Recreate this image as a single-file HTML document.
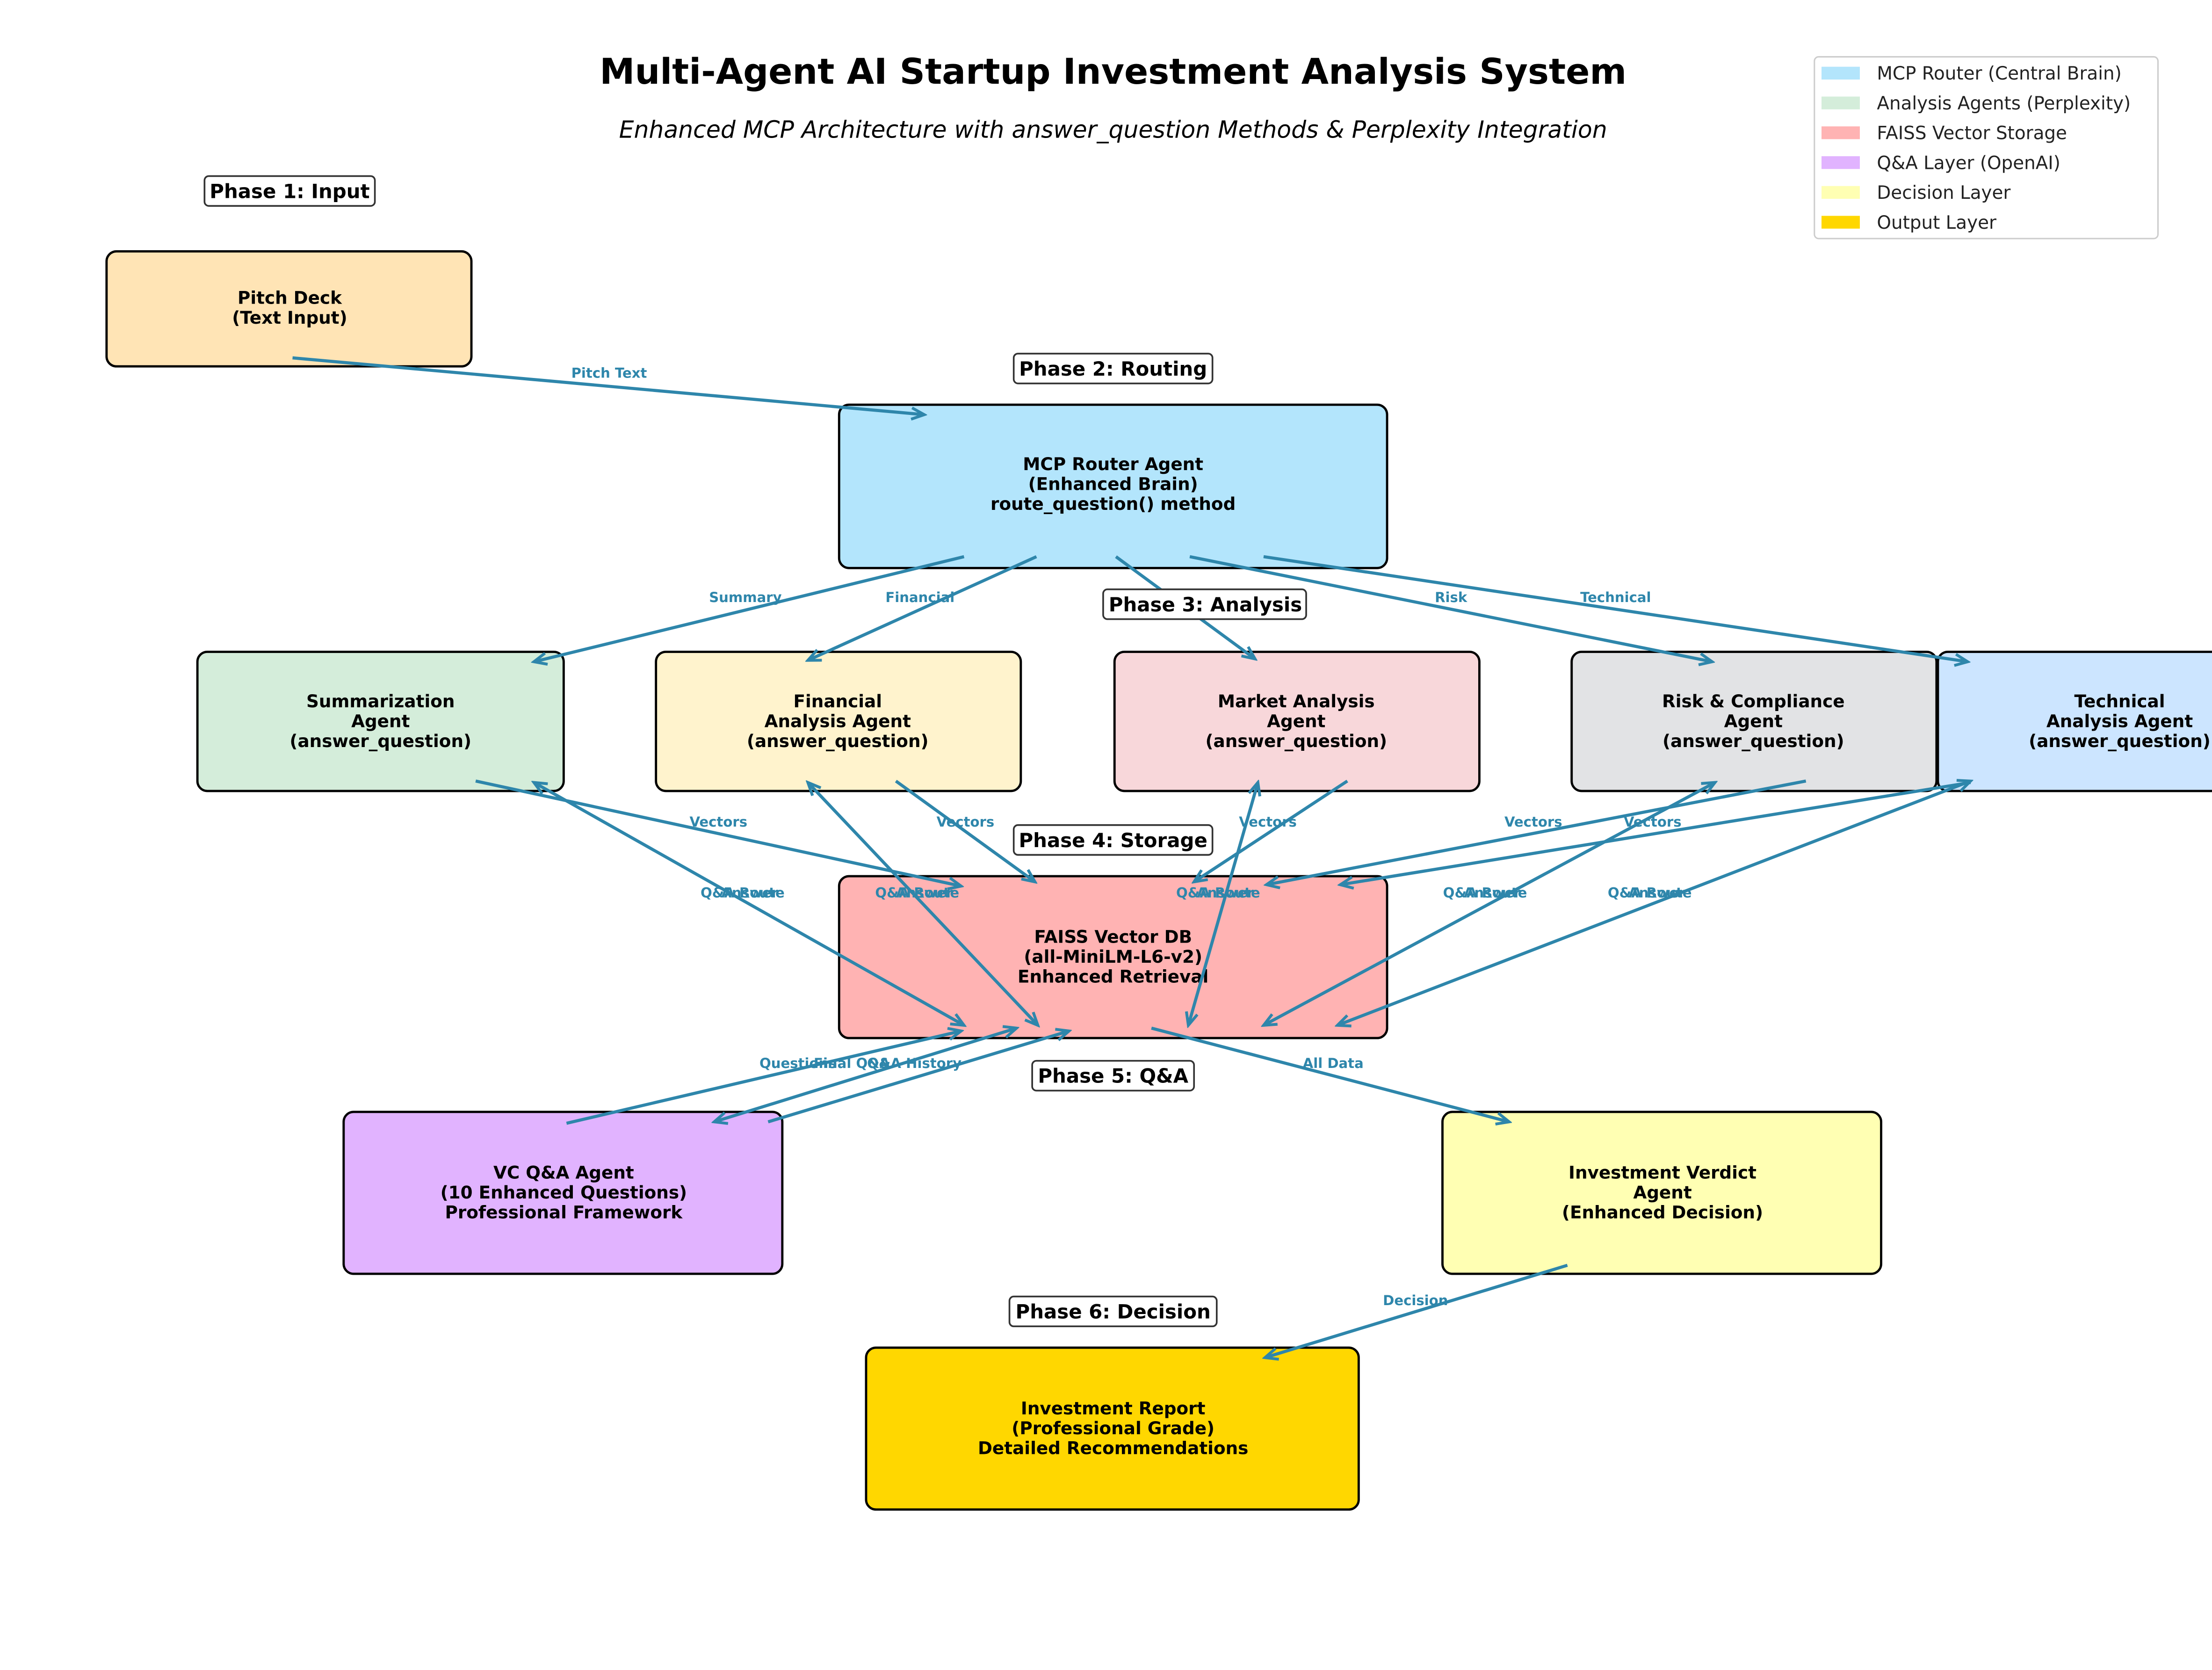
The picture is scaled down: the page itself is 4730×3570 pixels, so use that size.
<!DOCTYPE html>
<html><head><meta charset="utf-8"><style>
html,body{margin:0;padding:0;background:#fff;}
svg{display:block;}
text{font-family:"DejaVu Sans","Liberation Sans",sans-serif;}
.n{font-size:12.3px;font-weight:bold;fill:#000;text-anchor:middle;}
.p{font-size:13.8px;font-weight:bold;fill:#000;text-anchor:middle;}
.e{font-size:9.6px;font-weight:bold;fill:#2E86AB;text-anchor:middle;}
.a{stroke:#2E86AB;stroke-width:2.2;fill:none;marker-end:url(#ah);}
.b{stroke:#2E86AB;stroke-width:2.2;fill:none;marker-end:url(#ah);marker-start:url(#ah);}
.box{stroke:#000;stroke-width:1.6;}
.ph{fill:#fff;stroke:#333;stroke-width:1.2;}
.lg{font-size:12.8px;fill:#222;}
</style></head><body>
<svg width="4730" height="3570" viewBox="0 0 1558 1176" xmlns="http://www.w3.org/2000/svg">
<defs>
<marker id="ah" markerUnits="userSpaceOnUse" markerWidth="12" markerHeight="12" refX="10" refY="5" orient="auto-start-reverse" viewBox="0 0 12 10">
<path d="M1,1 L10,5 L1,9" stroke="#2E86AB" stroke-width="2" fill="none"/>
</marker>
</defs>
<rect width="1558" height="1176" fill="#fff"/>
<text x="784" y="59" style="font-size:24.9px;font-weight:bold" text-anchor="middle">Multi-Agent AI Startup Investment Analysis System</text>
<text x="784" y="97" style="font-size:16.6px;font-style:italic" text-anchor="middle">Enhanced MCP Architecture with answer_question Methods &amp; Perplexity Integration</text>

<rect x="1278" y="40" width="242" height="128" rx="3" fill="#fff" stroke="#ccc" stroke-width="1"/>
<rect x="1283" y="47" width="27" height="9" fill="#B3E5FC"/><text x="1322" y="56" class="lg">MCP Router (Central Brain)</text>
<rect x="1283" y="68" width="27" height="9" fill="#D4EDDA"/><text x="1322" y="77" class="lg">Analysis Agents (Perplexity)</text>
<rect x="1283" y="89" width="27" height="9" fill="#FFB3B3"/><text x="1322" y="98" class="lg">FAISS Vector Storage</text>
<rect x="1283" y="110" width="27" height="9" fill="#E1B3FF"/><text x="1322" y="119" class="lg">Q&amp;A Layer (OpenAI)</text>
<rect x="1283" y="131" width="27" height="9" fill="#FFFFB3"/><text x="1322" y="140" class="lg">Decision Layer</text>
<rect x="1283" y="152" width="27" height="9" fill="#FFD700"/><text x="1322" y="161" class="lg">Output Layer</text>

<rect class="box" x="75" y="177" width="257" height="81" rx="7" fill="#FFE4B5"/>
<text class="n" x="204" y="214">Pitch Deck</text><text class="n" x="204" y="228">(Text Input)</text>

<rect class="box" x="591" y="285" width="386" height="115" rx="7" fill="#B3E5FC"/>
<text class="n" x="784" y="331">MCP Router Agent</text><text class="n" x="784" y="345">(Enhanced Brain)</text><text class="n" x="784" y="359">route_question() method</text>

<rect class="box" x="139" y="459" width="258" height="98" rx="7" fill="#D4EDDA"/>
<text class="n" x="268" y="498">Summarization</text><text class="n" x="268" y="512">Agent</text><text class="n" x="268" y="526">(answer_question)</text>

<rect class="box" x="462" y="459" width="257" height="98" rx="7" fill="#FFF3CD"/>
<text class="n" x="590" y="498">Financial</text><text class="n" x="590" y="512">Analysis Agent</text><text class="n" x="590" y="526">(answer_question)</text>

<rect class="box" x="785" y="459" width="257" height="98" rx="7" fill="#F8D7DA"/>
<text class="n" x="913" y="498">Market Analysis</text><text class="n" x="913" y="512">Agent</text><text class="n" x="913" y="526">(answer_question)</text>

<rect class="box" x="1107" y="459" width="257" height="98" rx="7" fill="#E2E3E5"/>
<text class="n" x="1235" y="498">Risk &amp; Compliance</text><text class="n" x="1235" y="512">Agent</text><text class="n" x="1235" y="526">(answer_question)</text>

<rect class="box" x="1365" y="459" width="257" height="98" rx="7" fill="#CCE5FF"/>
<text class="n" x="1493" y="498">Technical</text><text class="n" x="1493" y="512">Analysis Agent</text><text class="n" x="1493" y="526">(answer_question)</text>

<rect class="box" x="591" y="617" width="386" height="114" rx="7" fill="#FFB3B3"/>
<text class="n" x="784" y="664">FAISS Vector DB</text><text class="n" x="784" y="678">(all-MiniLM-L6-v2)</text><text class="n" x="784" y="692">Enhanced Retrieval</text>

<rect class="box" x="242" y="783" width="309" height="114" rx="7" fill="#E1B3FF"/>
<text class="n" x="397" y="830">VC Q&amp;A Agent</text><text class="n" x="397" y="844">(10 Enhanced Questions)</text><text class="n" x="397" y="858">Professional Framework</text>

<rect class="box" x="1016" y="783" width="309" height="114" rx="7" fill="#FFFFB3"/>
<text class="n" x="1171" y="830">Investment Verdict</text><text class="n" x="1171" y="844">Agent</text><text class="n" x="1171" y="858">(Enhanced Decision)</text>

<rect class="box" x="610" y="949" width="347" height="114" rx="7" fill="#FFD700"/>
<text class="n" x="784" y="996">Investment Report</text><text class="n" x="784" y="1010">(Professional Grade)</text><text class="n" x="784" y="1024">Detailed Recommendations</text>

<line class="a" x1="206" y1="252" x2="651" y2="292"/>
<line class="a" x1="679" y1="392" x2="376" y2="466"/>
<line class="a" x1="730" y1="392" x2="569" y2="465"/>
<line class="a" x1="786" y1="392" x2="884" y2="464"/>
<line class="a" x1="838" y1="392" x2="1206" y2="466"/>
<line class="a" x1="890" y1="392" x2="1386" y2="466"/>

<line class="a" x1="335" y1="550" x2="677" y2="624"/>
<line class="a" x1="631" y1="550" x2="729" y2="621"/>
<line class="a" x1="949" y1="550" x2="841" y2="621"/>
<line class="a" x1="1272" y1="550" x2="892" y2="623"/>
<line class="a" x1="1388" y1="551" x2="944" y2="623"/>

<line class="b" x1="376" y1="551" x2="679" y2="722"/>
<line class="b" x1="569" y1="551" x2="731" y2="722"/>
<line class="b" x1="886" y1="551" x2="837" y2="722"/>
<line class="b" x1="1208" y1="551" x2="890" y2="722"/>
<line class="b" x1="1388" y1="550" x2="942" y2="722"/>

<line class="a" x1="399" y1="791" x2="677" y2="726"/>
<line class="b" x1="716" y1="724" x2="503" y2="790"/>
<line class="a" x1="541" y1="790" x2="753" y2="726"/>
<line class="a" x1="811" y1="724" x2="1063" y2="790"/>
<line class="a" x1="1104" y1="891" x2="891" y2="956"/>

<text class="e" x="429" y="266">Pitch Text</text>
<text class="e" x="525" y="424">Summary</text>
<text class="e" x="648" y="424">Financial</text>
<text class="e" x="835" y="424">Market</text>
<text class="e" x="1022" y="424">Risk</text>
<text class="e" x="1138" y="424">Technical</text>
<text class="e" x="506" y="582">Vectors</text>
<text class="e" x="680" y="582">Vectors</text>
<text class="e" x="893" y="582">Vectors</text>
<text class="e" x="1080" y="582">Vectors</text>
<text class="e" x="1164" y="582">Vectors</text>
<text class="e" x="523" y="632">Q&amp;A Route</text><text class="e" x="528" y="632">Answer</text>
<text class="e" x="646" y="632">Q&amp;A Route</text><text class="e" x="651" y="632">Answer</text>
<text class="e" x="858" y="632">Q&amp;A Route</text><text class="e" x="863" y="632">Answer</text>
<text class="e" x="1046" y="632">Q&amp;A Route</text><text class="e" x="1051" y="632">Answer</text>
<text class="e" x="1162" y="632">Q&amp;A Route</text><text class="e" x="1167" y="632">Answer</text>
<text class="e" x="562" y="752">Questions</text>
<text class="e" x="600" y="752">Final Q&amp;A</text>
<text class="e" x="644" y="752">Q&amp;A History</text>
<text class="e" x="939" y="752">All Data</text>
<text class="e" x="997" y="919">Decision</text>

<rect class="ph" x="144" y="124" width="120" height="21" rx="3"/><text class="p" x="204" y="139.5">Phase 1: Input</text>
<rect class="ph" x="714" y="249" width="140" height="21" rx="3"/><text class="p" x="784" y="264.5">Phase 2: Routing</text>
<rect class="ph" x="777" y="415" width="143" height="21" rx="3"/><text class="p" x="849" y="430.5">Phase 3: Analysis</text>
<rect class="ph" x="714" y="581" width="140" height="21" rx="3"/><text class="p" x="784" y="596.5">Phase 4: Storage</text>
<rect class="ph" x="727" y="747" width="114" height="21" rx="3"/><text class="p" x="784" y="762.5">Phase 5: Q&amp;A</text>
<rect class="ph" x="711" y="913" width="146" height="21" rx="3"/><text class="p" x="784" y="928.5">Phase 6: Decision</text>
</svg>
</body></html>
